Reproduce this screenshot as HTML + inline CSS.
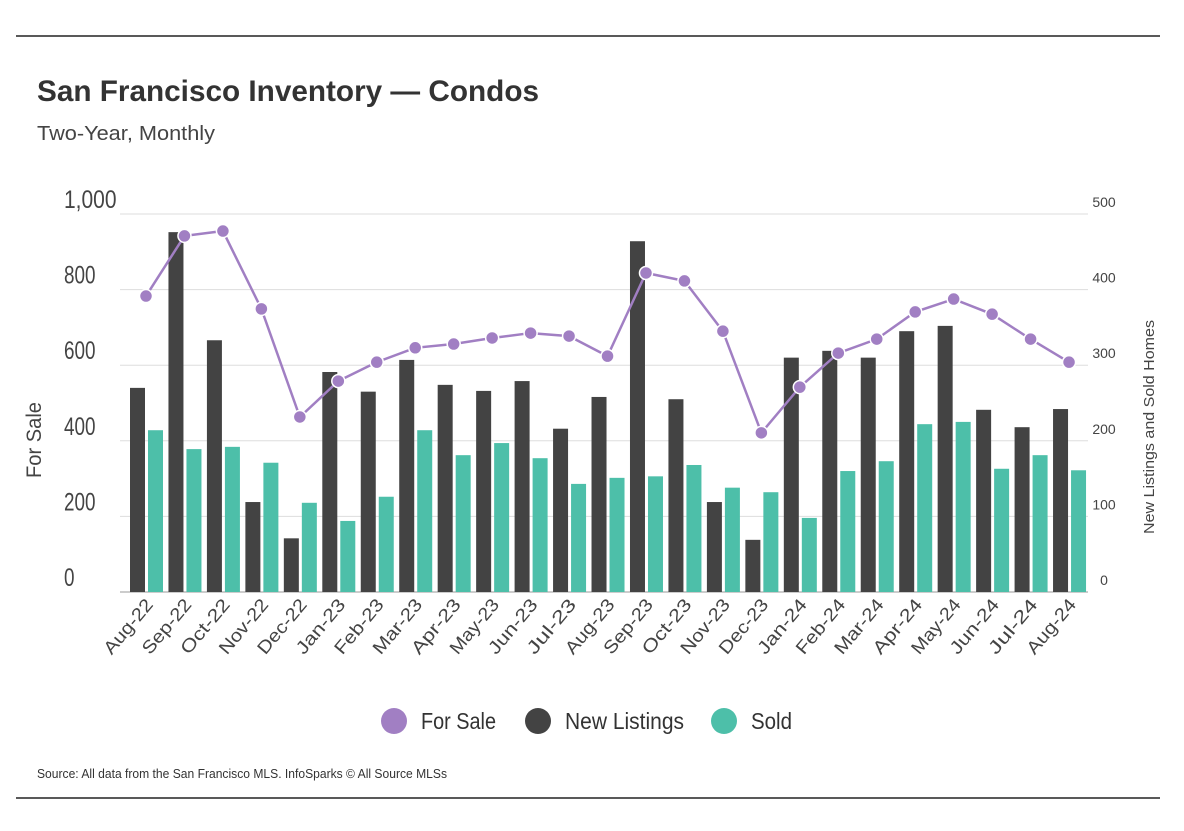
<!DOCTYPE html>
<html><head><meta charset="utf-8"><style>
body{margin:0;background:#fff;font-family:"Liberation Sans",sans-serif;}
svg text{font-family:"Liberation Sans",sans-serif;}
</style></head><body>
<svg id="chart" width="1184" height="826" viewBox="0 0 1184 826">
<line x1="16" y1="36" x2="1160" y2="36" stroke="#222" stroke-width="1.5"/>
<text x="37" y="101" font-size="30" font-weight="bold" fill="#333" textLength="502" lengthAdjust="spacingAndGlyphs">San Francisco Inventory — Condos</text>
<text x="37" y="140" font-size="20" fill="#444" textLength="178" lengthAdjust="spacingAndGlyphs">Two-Year, Monthly</text>
<text transform="translate(41,440) rotate(-90)" text-anchor="middle" font-size="21" fill="#444" textLength="76" lengthAdjust="spacingAndGlyphs">For Sale</text>
<text transform="translate(1154,427) rotate(-90)" text-anchor="middle" font-size="15" fill="#444" textLength="214" lengthAdjust="spacingAndGlyphs">New Listings and Sold Homes</text>
<g id="grid"></g><g id="bars"></g><g id="line"></g><g id="xlabels"></g>
<g>
<g><circle cx="394" cy="721" r="13" fill="#a17fc3"/><text x="421" y="729" font-size="23" fill="#333" textLength="75" lengthAdjust="spacingAndGlyphs">For Sale</text></g>
<g><circle cx="538" cy="721" r="13" fill="#434343"/><text x="565" y="729" font-size="23" fill="#333" textLength="119" lengthAdjust="spacingAndGlyphs">New Listings</text></g>
<g><circle cx="724" cy="721" r="13" fill="#4dbfa9"/><text x="751" y="729" font-size="23" fill="#333" textLength="41" lengthAdjust="spacingAndGlyphs">Sold</text></g>
</g>
<text x="37" y="778" font-size="13" fill="#333" textLength="410" lengthAdjust="spacingAndGlyphs">Source:  All data from the San Francisco MLS. InfoSparks © All Source MLSs</text>
<line x1="16" y1="798" x2="1160" y2="798" stroke="#222" stroke-width="1.5"/>
</svg>
<script>
const months=["Aug-22","Sep-22","Oct-22","Nov-22","Dec-22","Jan-23","Feb-23","Mar-23","Apr-23","May-23","Jun-23","Jul-23","Aug-23","Sep-23","Oct-23","Nov-23","Dec-23","Jan-24","Feb-24","Mar-24","Apr-24","May-24","Jun-24","Jul-24","Aug-24"];
const forSale=[783,942,955,749,463,558,608,646,656,672,685,677,624,844,823,690,421,542,632,669,741,775,735,669,608];
const newListings=[270,476,333,119,71,291,265,307,274,266,279,216,258,464,255,119,69,310,319,310,345,352,241,218,242];
const sold=[214,189,192,171,118,94,126,214,181,197,177,143,151,153,168,138,132,98,160,173,222,225,163,181,161];
const leftTicks=[0,200,400,600,800,1000];
const leftTickLabels=["0","200","400","600","800","1,000"];
const rightTicks=[0,100,200,300,400,500];
const NS="http://www.w3.org/2000/svg";
const y0=592,yTop=214;
const yL=v=>y0-(v/1000)*(y0-yTop);
const yR=v=>y0-(v/500)*(y0-yTop);
const xC=i=>146+i*38.46;
function mk(tag,attrs,parent){const e=document.createElementNS(NS,tag);for(const k in attrs)e.setAttribute(k,attrs[k]);parent.appendChild(e);return e;}
const grid=document.getElementById('grid');
leftTicks.forEach((t,i)=>{
  const l=mk('line',{x1:120,x2:1088,y1:yL(t),y2:yL(t),stroke:i==0?'#999':'#ddd','stroke-width':1},grid);
  
  
  const lab=leftTickLabels[i];
  const tx=mk('text',{x:64,y:yL(t)-6,'font-size':25,fill:'#444',textLength:lab.length*10.5,lengthAdjust:'spacingAndGlyphs'},grid);
  tx.textContent=lab;
  
  
});
rightTicks.forEach(t=>{
  const tx=mk('text',{x:1104,y:yR(t)-7,'font-size':14,fill:'#444','text-anchor':'middle'},grid);
  tx.textContent=t;
  
  
});
const bars=document.getElementById('bars');
months.forEach((m,i)=>{
  const b=mk('rect',{x:xC(i)-16,y:yR(newListings[i]),width:15,height:y0-yR(newListings[i]),fill:'#434343'},bars);
  
  
  const s=mk('rect',{x:xC(i)+2,y:yR(sold[i]),width:15,height:y0-yR(sold[i]),fill:'#4dbfa9'},bars);
  
  
  const lb=mk('text',{transform:`translate(${xC(i)+8},605) rotate(-50)`,'text-anchor':'end','font-size':18,fill:'#444',textLength:66,lengthAdjust:'spacingAndGlyphs'},document.getElementById('xlabels'));
  lb.textContent=m;
  
  
});
const lg=document.getElementById('line');
const p=mk('polyline',{points:forSale.map((v,i)=>xC(i)+','+yL(v)).join(' '),fill:'none',stroke:'#a17fc3','stroke-width':2.5},lg);


forSale.forEach((v,i)=>{
  const c=mk('circle',{cx:xC(i),cy:yL(v),r:6.5,fill:'#a17fc3',stroke:'#fff','stroke-width':1.5},lg);
  
  
});
</script>
</body></html>
